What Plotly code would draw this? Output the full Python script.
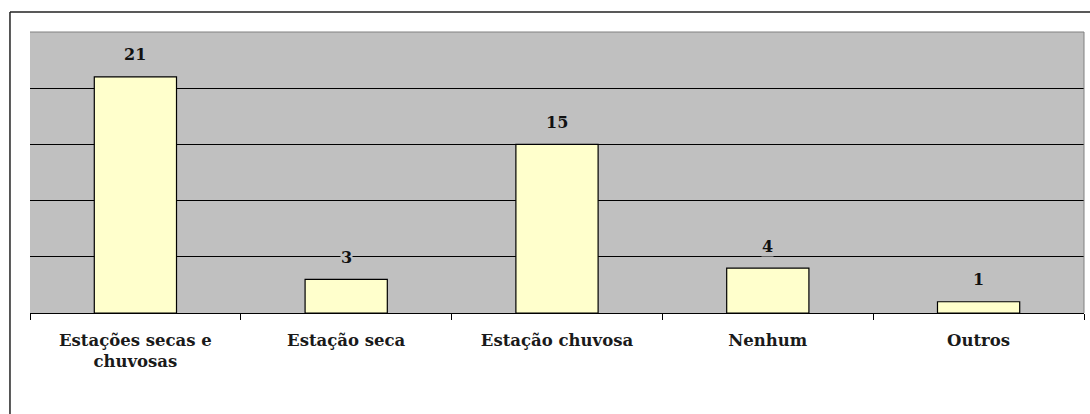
import plotly.graph_objects as go

categories = ["Estações secas e<br>chuvosas", "Estação seca", "Estação chuvosa", "Nenhum", "Outros"]
values = [21, 3, 15, 4, 1]
grid_values = [5, 10, 15, 20]

font_family = "DejaVu Serif"

fig = go.Figure()
fig.add_trace(go.Bar(
    x=categories,
    y=values,
    width=0.39,
    marker=dict(color="#FFFFCC", line=dict(color="#000000", width=1.2)),
    hoverinfo="x+y",
))

for c, v in zip(categories, values):
    fig.add_annotation(
        x=c, y=v, text=f"<b>{v}</b>", showarrow=False,
        yshift=22, bgcolor="#C0C0C0", borderpad=0,
        font=dict(family=font_family, size=16, color="#111"),
    )

fig.update_layout(
    width=1090, height=414,
    margin=dict(l=30, r=6, t=32, b=101),
    paper_bgcolor="#FFFFFF",
    plot_bgcolor="#C0C0C0",
    showlegend=False,
    bargap=0.61,
    xaxis=dict(
        type="category",
        tickson="boundaries",
        ticks="outside",
        ticklen=6,
        tickcolor="#000000",
        showline=True,
        linecolor="#000000",
        linewidth=1.2,
        showgrid=False,
        tickmode="array",
        tickvals=categories,
        ticktext=[f"<b>{c}</b>" for c in categories],
        ticklabelstandoff=12,
        tickfont=dict(family=font_family, size=16.5, color="#1a1a1a"),
        fixedrange=True,
    ),
    yaxis=dict(
        range=[0, 25],
        tickvals=grid_values,
        showticklabels=False,
        showgrid=True,
        gridcolor="#000000",
        gridwidth=1,
        zeroline=False,
        showline=False,
        fixedrange=True,
    ),
    shapes=[
        # outer chart frame (left and top edges)
        dict(type="line", xref="paper", yref="paper", x0=-0.019, x1=-0.019, y0=1.071, y1=-0.5,
             line=dict(color="#222222", width=1.5)),
        dict(type="line", xref="paper", yref="paper", x0=-0.019, x1=1.1, y0=1.071, y1=1.071,
             line=dict(color="#222222", width=1.5)),
        # plot area top and right borders
        dict(type="line", xref="paper", yref="paper", x0=0, x1=1, y0=1, y1=1,
             line=dict(color="#808080", width=1)),
        dict(type="line", xref="paper", yref="paper", x0=1, x1=1, y0=0, y1=1,
             line=dict(color="#808080", width=1)),
    ],
)

fig.write_html("out.html")
